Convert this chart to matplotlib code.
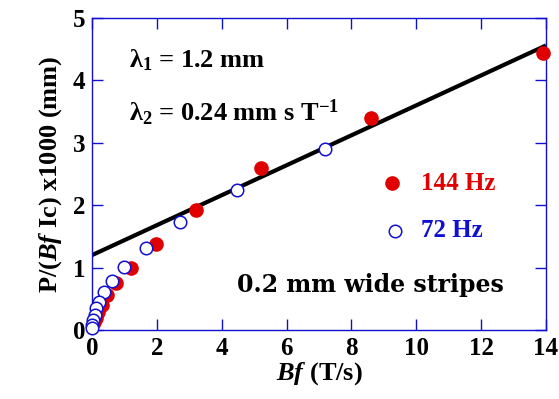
import numpy as np
import matplotlib
matplotlib.use('Agg')
import matplotlib.pyplot as plt

plt.rcParams['font.family'] = 'Liberation Serif'
plt.rcParams['font.weight'] = 'bold'
plt.rcParams['mathtext.fontset'] = 'custom'
plt.rcParams['mathtext.it'] = 'Liberation Serif:italic:bold'
plt.rcParams['mathtext.rm'] = 'Liberation Serif:bold'
plt.rcParams['mathtext.bf'] = 'Liberation Serif:bold'

# 144 Hz data (filled)
x144 = [13.9, 8.6, 5.2, 3.2, 1.97, 1.2, 0.74, 0.46, 0.31, 0.19, 0.11, 0.07]
y144 = [4.44, 3.40, 2.60, 1.92, 1.38, 1.00, 0.75, 0.56, 0.40, 0.29, 0.20, 0.13]
# 72 Hz data (open)
x72 = [7.19, 4.47, 2.72, 1.67, 0.99, 0.62, 0.37, 0.22, 0.12, 0.09, 0.03, 0.01, 0.0]
y72 = [2.90, 2.24, 1.73, 1.31, 1.01, 0.78, 0.61, 0.45, 0.35, 0.24, 0.16, 0.08, 0.03]
# linear fit  P/(Bf Ic) = lambda1 + lambda2 * Bf
lam1 = 1.2
lam2 = 0.24
xfit = [0, 14]

blue = '#1010d0'
red = '#e00000'

fig = plt.figure(figsize=(5.59, 3.99), dpi=100)
ax = fig.add_axes([0.1646, 0.1729, 0.8121, 0.782])

ax.plot(xfit, [lam1 + lam2*v for v in xfit], color='k', lw=3, zorder=2, solid_capstyle='butt')
ax.plot(x144, y144, 'o', color=red, ms=9.5, mec=red, zorder=3, clip_on=False)
ax.plot(x72, y72, 'o', mfc='white', mec=blue, mew=1.1, ms=9, zorder=4, clip_on=False)

ax.set_xlim(0, 14)
ax.set_ylim(0, 5)
ax.set_xticks(np.arange(0, 15, 2))
ax.set_yticks(np.arange(0, 6, 1))
for s in ax.spines.values():
    s.set_color(blue)
    s.set_linewidth(1)
ax.tick_params(direction='in', length=8, width=1, color=blue, top=True, right=True,
               labelsize=18, pad=5)
for lab in ax.get_xticklabels() + ax.get_yticklabels():
    lab.set_fontweight('bold')

ax.set_xlabel(r'$Bf$ (T/s)', fontsize=19, fontweight='bold', labelpad=0)
ax.set_ylabel(r'P/($Bf$ Ic) x1000 (mm)', fontsize=19, fontweight='bold', labelpad=6)

ax.text(1.15, 4.33, r'$\mathbf{\lambda}_{\mathbf{1}}$ = 1.2 mm', fontsize=19, fontweight='bold', va='center')
ax.text(1.15, 3.48, r'$\mathbf{\lambda}_{\mathbf{2}}$ = 0.24 mm s T$^{\mathbf{-1}}$', fontsize=19, fontweight='bold', va='center')
ax.text(8.58, 0.72, '0.2 mm wide stripes', fontsize=17, fontweight='bold', ha='center', va='center',
        family='DejaVu Serif')

ax.plot([9.25], [2.35], 'o', color=red, ms=9.5, clip_on=False)
ax.text(10.15, 2.35, '144 Hz', color=red, fontsize=18, fontweight='bold', va='center')
ax.plot([9.35], [1.59], 'o', mfc='white', mec=blue, mew=1.1, ms=9)
ax.text(10.15, 1.59, '72 Hz', color=blue, fontsize=18, fontweight='bold', va='center')

fig.savefig('out.png', dpi=100)
